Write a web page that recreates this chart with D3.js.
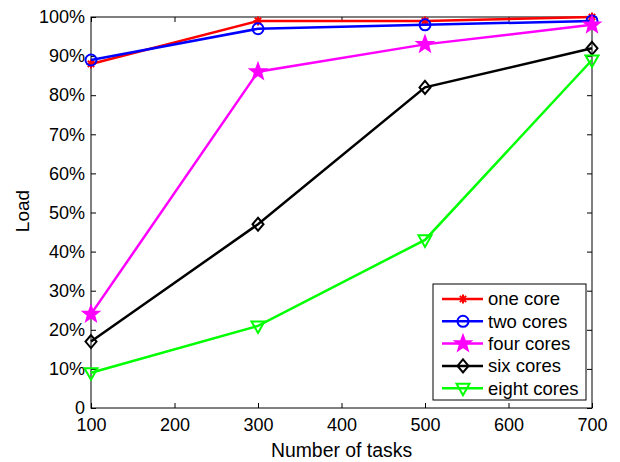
<!DOCTYPE html>
<html>
<head>
<meta charset="utf-8">
<script src="https://cdn.jsdelivr.net/npm/d3@7"></script>
<style>
  body { margin: 0; background: #fff; }
  svg text { font-family: "Liberation Sans", Arial, sans-serif; fill: #000; }
</style>
</head>
<body>
<div id="plot"></div>
<script>
// data
var tasks = [100, 300, 500, 700];
var oneCore = [88, 99, 99, 100];
var twoCores = [89, 97, 98, 99];
var fourCores = [24, 86, 93, 98];
var sixCores = [17, 47, 82, 92];
var eightCores = [9, 21, 43, 89];
var seriesNames = ["one core", "two cores", "four cores", "six cores", "eight cores"];
var xTicks = [100, 200, 300, 400, 500, 600, 700];
var yTicks = [0, 10, 20, 30, 40, 50, 60, 70, 80, 90, 100];

var series = [
  {name: seriesNames[0], vals: oneCore, color: "#ff0000", marker: "asterisk"},
  {name: seriesNames[1], vals: twoCores, color: "#0000ff", marker: "circle"},
  {name: seriesNames[2], vals: fourCores, color: "#ff00ff", marker: "star"},
  {name: seriesNames[3], vals: sixCores, color: "#000000", marker: "diamond"},
  {name: seriesNames[4], vals: eightCores, color: "#00ff00", marker: "triangle"}
];

var W = 620, H = 462;
var axLeft = 91, axRight = 592, axTop = 17, axBottom = 408;

var svg = d3.select("#plot").append("svg")
  .attr("width", W).attr("height", H);

var x = d3.scaleLinear().domain([100, 700]).range([axLeft, axRight]);
var y = d3.scaleLinear().domain([0, 100]).range([axBottom, axTop]);

// axes, ticks pointing inward like matlab
function styleAxis(g) {
  g.select(".domain").remove();
  g.selectAll(".tick line").attr("stroke", "#000").attr("stroke-width", 1);
  g.selectAll(".tick text").style("font-size", "18px").attr("fill", "#000");
}

svg.append("g")
  .attr("transform", "translate(0," + axBottom + ")")
  .call(d3.axisBottom(x).tickValues(xTicks).tickSizeInner(-5).tickSizeOuter(0).tickPadding(10))
  .call(styleAxis);

svg.append("g")
  .attr("transform", "translate(0," + axTop + ")")
  .call(d3.axisTop(x).tickValues(xTicks).tickSizeInner(-5).tickSizeOuter(0).tickFormat(""))
  .call(styleAxis);

svg.append("g")
  .attr("transform", "translate(" + axLeft + ",0)")
  .call(d3.axisLeft(y).tickValues(yTicks).tickSizeInner(-5).tickSizeOuter(0).tickPadding(6)
    .tickFormat(function(d){ return d == 0 ? "0" : d + "%"; }))
  .call(styleAxis);

svg.append("g")
  .attr("transform", "translate(" + axRight + ",0)")
  .call(d3.axisRight(y).tickValues(yTicks).tickSizeInner(-5).tickSizeOuter(0).tickFormat(""))
  .call(styleAxis);

svg.append("rect")
  .attr("x", axLeft).attr("y", axTop)
  .attr("width", axRight - axLeft).attr("height", axBottom - axTop)
  .attr("fill", "none").attr("stroke", "#000").attr("stroke-width", 1);

// labels
svg.append("text")
  .attr("x", (axLeft + axRight) / 2).attr("y", 457)
  .attr("text-anchor", "middle")
  .style("font-size", "19.4px")
  .text("Number of tasks");

svg.append("text")
  .attr("transform", "translate(29,211) rotate(-90)")
  .attr("text-anchor", "middle")
  .style("font-size", "19px")
  .text("Load");

// marker shapes
function markerPath(type) {
  var p = d3.path();
  if (type == "star") {
    var R = 8, r = 3.3;
    for (var i = 0; i < 10; i++) {
      var a = -Math.PI / 2 + i * Math.PI / 5;
      var rr = i % 2 ? r : R;
      if (i == 0) p.moveTo(rr * Math.cos(a), rr * Math.sin(a));
      else p.lineTo(rr * Math.cos(a), rr * Math.sin(a));
    }
    p.closePath();
  } else if (type == "diamond") {
    p.moveTo(0, -6.5); p.lineTo(5.5, 0); p.lineTo(0, 6.5); p.lineTo(-5.5, 0); p.closePath();
  } else if (type == "triangle") {
    p.moveTo(-6.5, -4.5); p.lineTo(6.5, -4.5); p.lineTo(0, 7); p.closePath();
  } else if (type == "asterisk") {
    var s = 4.5;
    p.moveTo(-s, 0); p.lineTo(s, 0);
    p.moveTo(0, -s); p.lineTo(0, s);
    p.moveTo(-s * 0.7, -s * 0.7); p.lineTo(s * 0.7, s * 0.7);
    p.moveTo(-s * 0.7, s * 0.7); p.lineTo(s * 0.7, -s * 0.7);
  }
  return p.toString();
}

function drawMarker(g, type, color) {
  if (type == "circle") {
    g.append("circle").attr("r", 5.5)
      .attr("fill", "none").attr("stroke", color).attr("stroke-width", 2);
  } else {
    g.append("path").attr("d", markerPath(type))
      .attr("fill", type == "star" ? color : "none")
      .attr("stroke", color).attr("stroke-width", 2)
      .attr("stroke-linejoin", "miter");
  }
}

var line = d3.line()
  .x(function(d, i){ return x(tasks[i]); })
  .y(function(d){ return y(d); });

series.forEach(function(s) {
  var g = svg.append("g");
  g.append("path")
    .attr("d", line(s.vals))
    .attr("fill", "none")
    .attr("stroke", s.color)
    .attr("stroke-width", 2.5);
  s.vals.forEach(function(v, i) {
    var m = g.append("g").attr("transform", "translate(" + x(tasks[i]) + "," + y(v) + ")");
    drawMarker(m, s.marker, s.color);
  });
});

// legend
var lg = svg.append("g");
lg.append("rect")
  .attr("x", 433).attr("y", 284)
  .attr("width", 153).attr("height", 116)
  .attr("fill", "#fff").attr("stroke", "#000").attr("stroke-width", 1);

series.forEach(function(s, i) {
  var yy = 299 + i * 22.3;
  lg.append("line")
    .attr("x1", 442).attr("x2", 483)
    .attr("y1", yy).attr("y2", yy)
    .attr("stroke", s.color).attr("stroke-width", 2.5);
  var m = lg.append("g").attr("transform", "translate(463," + yy + ")");
  drawMarker(m, s.marker, s.color);
  lg.append("text")
    .attr("x", 488).attr("y", yy)
    .attr("dy", "0.35em")
    .style("font-size", "18.5px")
    .text(s.name);
});
</script>
</body>
</html>
